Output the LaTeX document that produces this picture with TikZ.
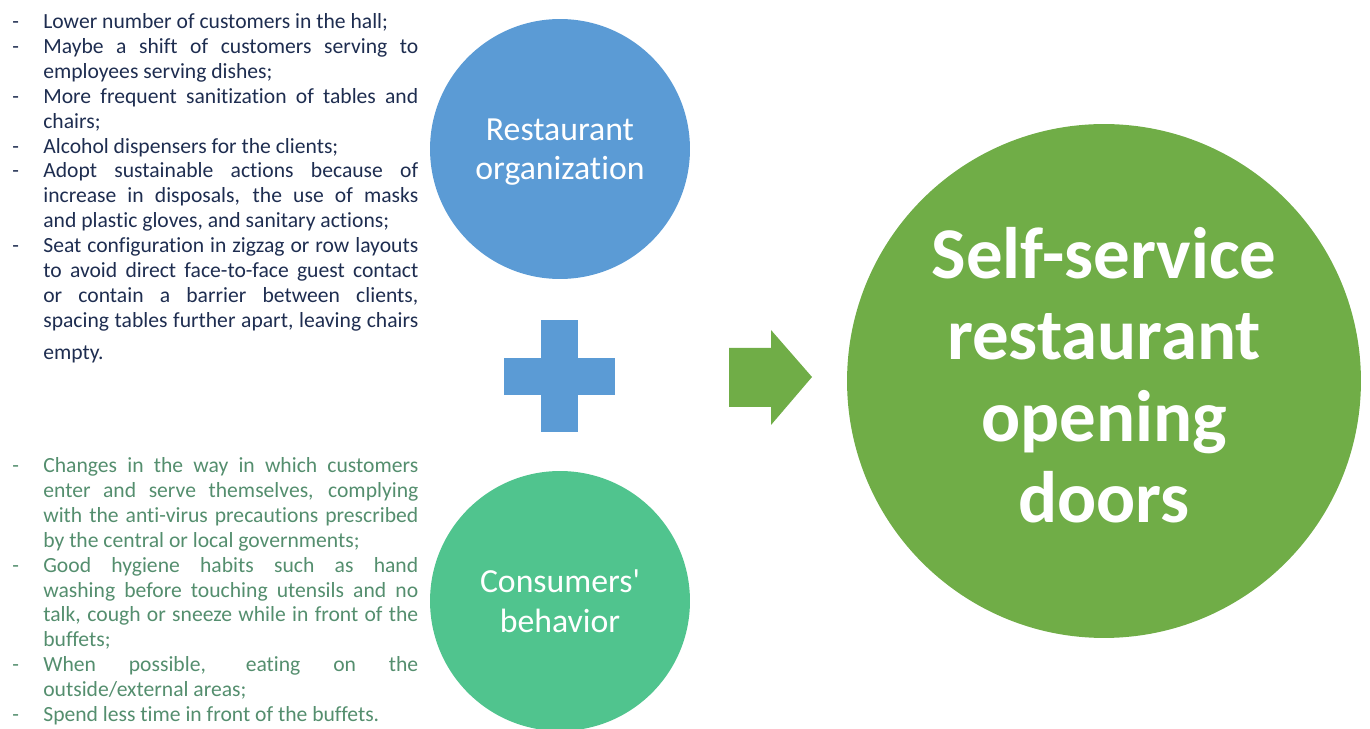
\documentclass[tikz,border=0pt]{standalone}
\usepackage{fontspec}
\setmainfont{Carlito}[Ligatures=NoCommon]
\usepackage{tikz}
\usetikzlibrary{positioning}
\definecolor{orgblue}{RGB}{91,155,213}
\definecolor{consgreen}{RGB}{80,196,142}
\definecolor{opengreen}{RGB}{112,173,71}
\definecolor{orgtext}{RGB}{30,45,80}
\definecolor{constext}{RGB}{84,142,110}

\newenvironment{dashlist}{\begin{list}{-}{\setlength{\leftmargin}{0.62cm}\setlength{\labelwidth}{0.62cm}\setlength{\labelsep}{0pt}\setlength{\topsep}{0pt}\setlength{\partopsep}{0pt}\setlength{\itemsep}{0pt}\setlength{\parsep}{0pt}\renewcommand{\makelabel}[1]{##1\hfil}}}{\end{list}}

\begin{document}
\begin{tikzpicture}[x=0.02cm, y=-0.02cm,
    bubble/.style={circle, inner sep=0pt, minimum size=5.2cm, text=white, align=center, font=\fontsize{19.2}{22.5}\selectfont},
    textlist/.style={anchor=north west, inner sep=0pt, text width=8.12cm, align=justify, font=\fontsize{12.3}{14.2}\selectfont}
]
\useasboundingbox (0,0) rectangle (1370,729);

% TOP LIST
\node[textlist, text=orgtext] (orglist) at (12,3) {%
\begin{dashlist}
\item Lower number of customers in the hall;
\item Maybe a shift of customers serving to\linebreak employees serving dishes;
\item More frequent sanitization of tables and\linebreak chairs;
\item Alcohol dispensers for the clients;
\item Adopt sustainable actions because of\linebreak increase in disposals, the use of masks\linebreak and plastic gloves, and sanitary actions;
\item Seat configuration in zigzag or row layouts\linebreak to avoid direct face-to-face guest contact\linebreak or contain a barrier between clients,\linebreak spacing tables further apart, leaving chairs\vadjust{\vskip 4pt}\linebreak empty.
\end{dashlist}};

% BOTTOM LIST
\node[textlist, text=constext] (conslist) at (12,447) {%
\begin{dashlist}
\item Changes in the way in which customers\linebreak enter and serve themselves, complying\linebreak with the anti-virus precautions prescribed\linebreak by the central or local governments;
\item Good hygiene habits such as hand\linebreak washing before touching utensils and no\linebreak talk, cough or sneeze while in front of the\linebreak buffets;
\item When possible, eating on the\linebreak outside/external areas;
\item Spend less time in front of the buffets.
\end{dashlist}};

% CIRCLES
\node[bubble, fill=orgblue, text depth=0pt] (org) at (560,149) {Restaurant\\organization};
\node[bubble, fill=consgreen] (cons) at (560,601) {Consumers\textquotesingle\\behavior};
\node[bubble, fill=opengreen, minimum size=10.28cm, text depth=7pt, font=\fontsize{41.5}{46.4}\selectfont\bfseries] (open) at (1104,381) {Self-service\\restaurant\\opening\\doors};

% Plus sign
\fill[orgblue] (504,358) rectangle (615,395);
\fill[orgblue] (541,320) rectangle (578,432);

% Block arrow
\fill[opengreen] (729,348) -- (771,348) -- (771,330) -- (812,377) -- (771,425) -- (771,407) -- (729,407) -- cycle;

\end{tikzpicture}
\end{document}
